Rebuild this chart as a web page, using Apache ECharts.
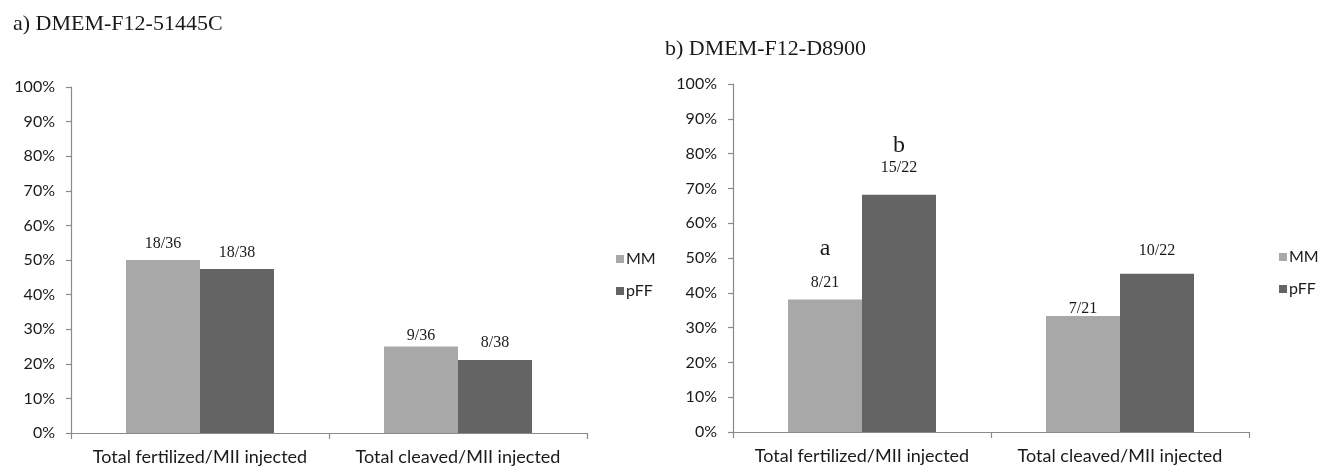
<!DOCTYPE html>
<html>
<head>
<meta charset="utf-8">
<script src="https://cdn.jsdelivr.net/npm/echarts@6/dist/echarts.min.js"></script>
<style>
html,body{margin:0;padding:0;background:#fff;}
#c{width:1327px;height:468px;}
</style>
</head>
<body>
<div id="c"></div>
<script>
// ---- data ----
const categories = ['Total fertilized/MII injected', 'Total cleaved/MII injected'];
const yTicks = [0, 10, 20, 30, 40, 50, 60, 70, 80, 90, 100];
const seriesNames = ['MM', 'pFF'];
// a) DMEM-F12-51445C
const mmA = [50.0, 25.0];
const pffA = [47.4, 21.1];
const mmALabels = ['18/36', '9/36'];
const pffALabels = ['18/38', '8/38'];
// b) DMEM-F12-D8900
const mmB = [38.1, 33.3];
const pffB = [68.2, 45.5];
const mmBLabels = ['8/21', '7/21'];
const pffBLabels = ['15/22', '10/22'];
const mmBLetters = ['a', ''];
const pffBLetters = ['b', ''];

// ---- styling (not data) ----
const colors = { MM: '#a8a8a8', pFF: '#646464' };
const labelDist = { mmA: [7, 2], pffA: [7, 8], mmB: [8, -2], pffB: [18, 14] };
const letterPad = { mmB: [26, 0], pffB: [1, 0] };

const sans = 'Lato';
const serif = 'Liberation Serif';
const textColor = '#1a1a1a';
const axisColor = '#8a8a8a';

function buildData(values, labels, dists, letters, pads) {
  return values.map((v, i) => {
    const letter = letters ? letters[i] : '';
    const item = {
      value: v,
      label: {
        distance: dists[i],
        formatter: letter ? '{s|' + letter + '}\n{v|' + labels[i] + '}' : '{v|' + labels[i] + '}'
      }
    };
    if (letter) {
      item.label.rich = {
        s: { fontFamily: serif, fontSize: 24, lineHeight: 24, color: textColor, padding: [0, 0, pads[i], 0] },
        v: { fontFamily: serif, fontSize: 16, lineHeight: 18, color: textColor }
      };
    }
    return item;
  });
}

const labelBase = {
  show: true,
  position: 'top',
  rich: { v: { fontFamily: serif, fontSize: 16, lineHeight: 18, color: textColor } }
};

function yAxis(gridIndex) {
  return {
    type: 'value', gridIndex, min: yTicks[0], max: yTicks[yTicks.length - 1], interval: 10,
    axisLine: { show: true, lineStyle: { color: axisColor, width: 1.2 } },
    axisTick: { show: true, length: 5, lineStyle: { color: axisColor, width: 1.2 } },
    splitLine: { show: false },
    axisLabel: { formatter: '{value}%', fontFamily: sans, fontSize: 16, color: textColor, margin: 16 }
  };
}
function xAxis(gridIndex) {
  return {
    type: 'category', gridIndex, data: categories,
    axisLine: { show: true, lineStyle: { color: axisColor, width: 1.2 } },
    axisTick: { show: true, length: 6, alignWithLabel: false, lineStyle: { color: axisColor, width: 1.2 } },
    axisLabel: { fontFamily: sans, fontSize: 18, color: textColor, margin: 15, interval: 0 }
  };
}
function bar(name, xi, values, labels, dists, letters, pads) {
  return {
    name, type: 'bar', xAxisIndex: xi, yAxisIndex: xi,
    barWidth: 74, barGap: '0%',
    itemStyle: { color: colors[name] },
    label: labelBase,
    data: buildData(values, labels, dists, letters, pads)
  };
}

const chart = echarts.init(document.getElementById('c'), null, { renderer: 'canvas' });
chart.setOption({
  animation: false,
  backgroundColor: '#fff',
  title: [
    { text: 'a) DMEM-F12-51445C', left: 8, top: 8,
      textStyle: { fontFamily: serif, fontSize: 22, fontWeight: 'normal', color: textColor } },
    { text: 'b) DMEM-F12-D8900', left: 660, top: 33,
      textStyle: { fontFamily: serif, fontSize: 22, fontWeight: 'normal', color: textColor } }
  ],
  legend: [
    { data: seriesNames, orient: 'vertical', left: 611, top: 246, itemWidth: 8, itemHeight: 8, itemGap: 16,
      icon: 'rect', textStyle: { fontFamily: sans, fontSize: 16, color: textColor, padding: [0, 0, 0, -3] } },
    { data: seriesNames, orient: 'vertical', left: 1274, top: 244, itemWidth: 8, itemHeight: 8, itemGap: 16,
      icon: 'rect', textStyle: { fontFamily: sans, fontSize: 16, color: textColor, padding: [0, 0, 0, -3] } }
  ],
  grid: [
    { left: 71, right: 740, top: 87, bottom: 35 },
    { left: 733, right: 78, top: 84, bottom: 36 }
  ],
  xAxis: [xAxis(0), xAxis(1)],
  yAxis: [yAxis(0), yAxis(1)],
  series: [
    bar('MM', 0, mmA, mmALabels, labelDist.mmA),
    bar('pFF', 0, pffA, pffALabels, labelDist.pffA),
    bar('MM', 1, mmB, mmBLabels, labelDist.mmB, mmBLetters, letterPad.mmB),
    bar('pFF', 1, pffB, pffBLabels, labelDist.pffB, pffBLetters, letterPad.pffB)
  ]
});
</script>
</body>
</html>
